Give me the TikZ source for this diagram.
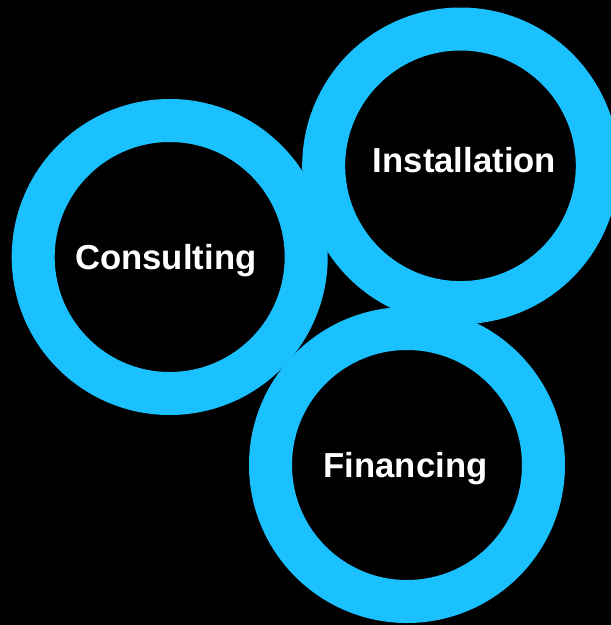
\documentclass[tikz,border=0pt]{standalone}
\usepackage{fontspec}
\setmainfont{Liberation Sans}
\definecolor{ringcyan}{RGB}{27,193,255}
\tikzset{
  ring/.style={draw=ringcyan, line width=43pt},
  label/.style={text=white, font=\fontsize{34.7}{40}\selectfont\bfseries, anchor=base, inner sep=0pt}
}
\begin{document}
\begin{tikzpicture}[x=1pt,y=-1pt]
\clip (0,0) rectangle (611,625);
\fill[black] (0,0) rectangle (611,625);
\draw[ring] (169.7,257) circle [radius=136.5pt];
\draw[ring] (460.5,165.8) circle [radius=136.8pt];
\draw[ring] (407,465) circle [radius=136.5pt];
\node[label] (consulting) at (165.8,269) {Consulting};
\node[label] (installation) at (464.5,172.3) {Installation};
\node[label] (financing) at (405.5,477.3) {Financing};
\end{tikzpicture}
\end{document}
